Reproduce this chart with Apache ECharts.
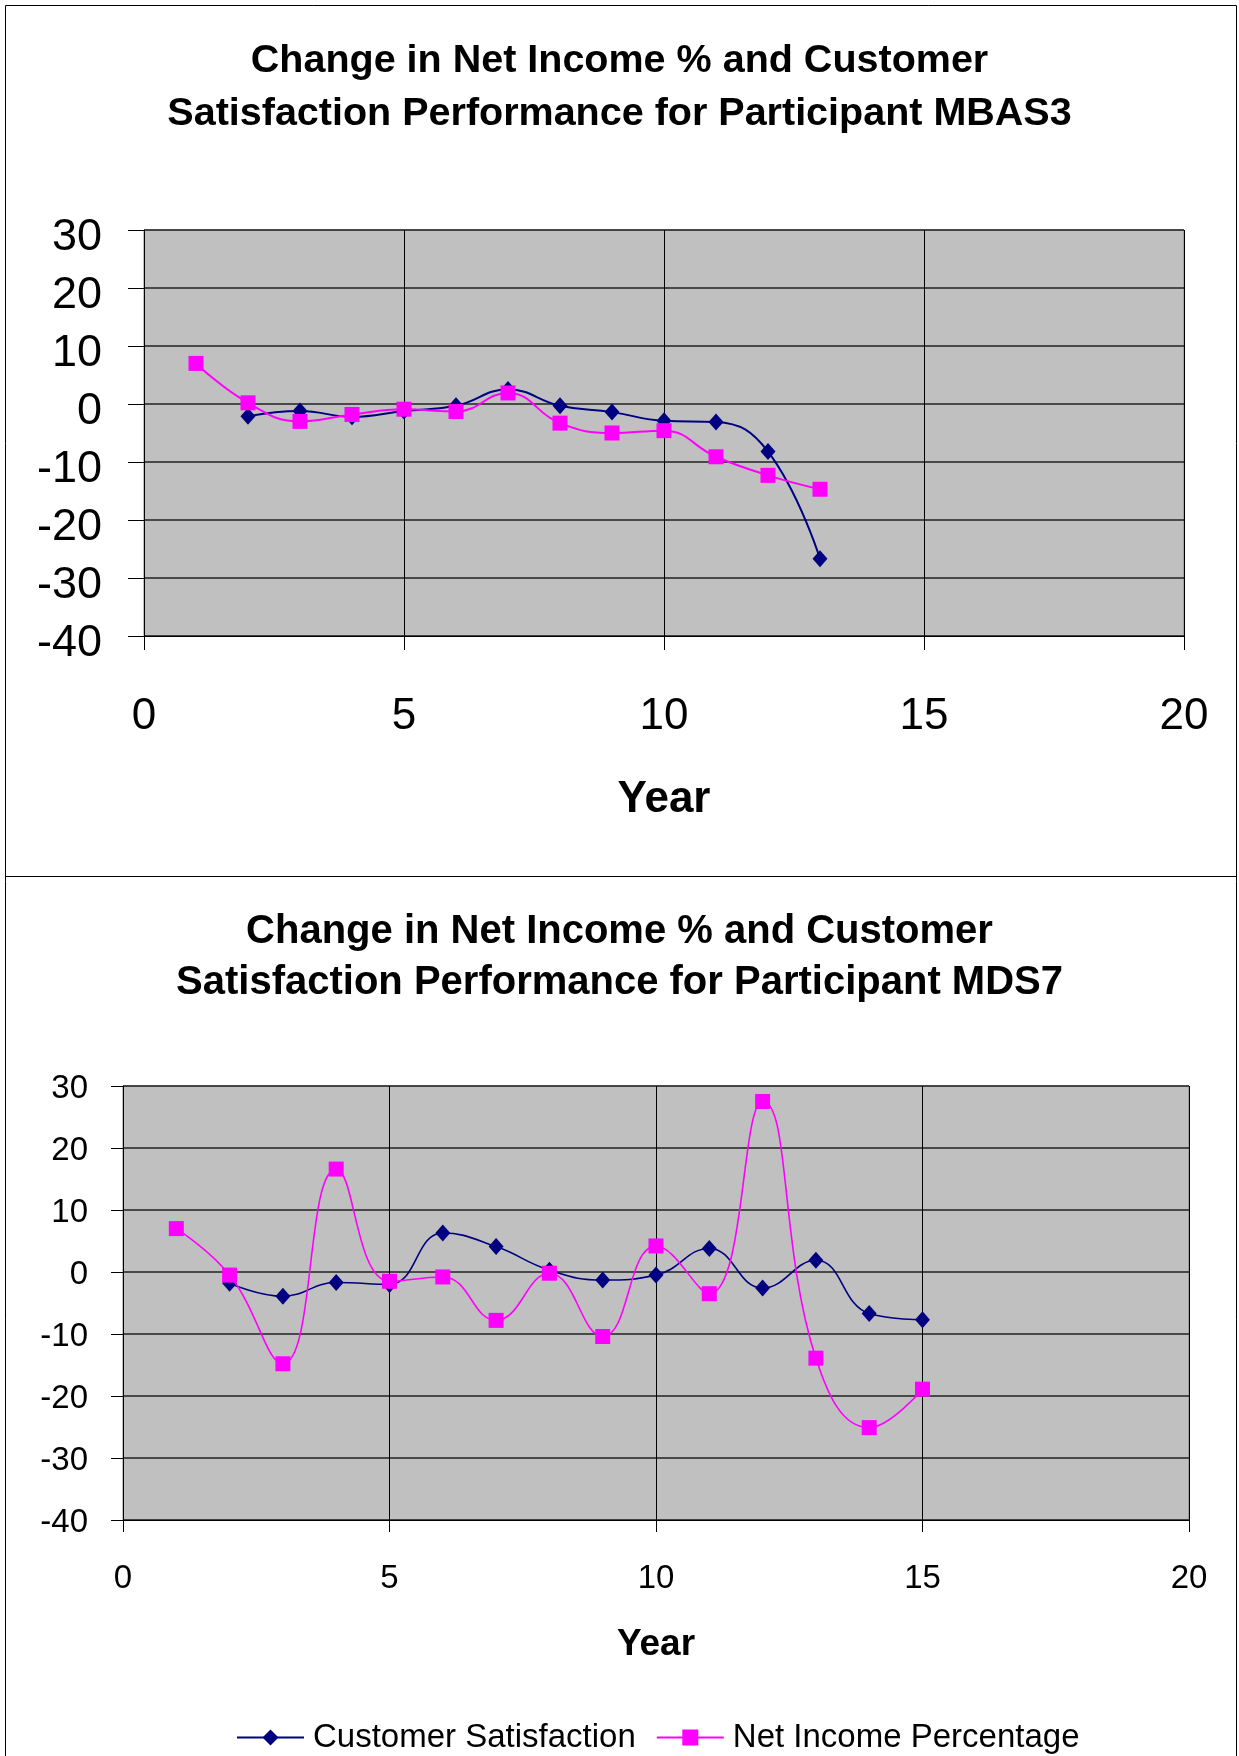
<!DOCTYPE html>
<html>
<head>
<meta charset="utf-8">
<script src="https://cdn.jsdelivr.net/npm/echarts@6/dist/echarts.min.js"></script>
<style>
html,body{margin:0;padding:0;background:#fff;}
#chart{width:1239px;height:1756px;}
</style>
</head>
<body>
<div id="chart"></div>
<script>
// ---- Data ----
const title1 = "Change in Net Income % and Customer\nSatisfaction Performance for Participant MBAS3";
const title2 = "Change in Net Income % and Customer\nSatisfaction Performance for Participant MDS7";
const seriesNames = ["Customer Satisfaction", "Net Income Percentage"];
const xAxisName = "Year";

// Chart 1 (MBAS3)
const niYears1 = [1, 2, 3, 4, 5, 6, 7, 8, 9, 10, 11, 12, 13];
const niValues1 = [7.0, 0.2, -3.0, -1.8, -0.9, -1.3, 1.9, -3.3, -5.0, -4.6, -9.1, -12.3, -14.7];
const csYears1 = [2, 3, 4, 5, 6, 7, 8, 9, 10, 11, 12, 13];
const csValues1 = [-2.1, -1.2, -2.2, -1.2, -0.3, 2.5, -0.3, -1.4, -2.9, -3.1, -8.2, -26.7];

// Chart 2 (MDS7)
const niYears2 = [1, 2, 3, 4, 5, 6, 7, 8, 9, 10, 11, 12, 13, 14, 15];
const niValues2 = [7.0, -0.5, -14.8, 16.6, -1.5, -0.8, -7.8, -0.2, -10.4, 4.2, -3.5, 27.5, -13.9, -25.1, -18.9];
const csYears2 = [2, 3, 4, 5, 6, 7, 8, 9, 10, 11, 12, 13, 14, 15];
const csValues2 = [-1.8, -3.9, -1.7, -2.0, 6.3, 4.1, 0.3, -1.3, -0.5, 3.8, -2.6, 1.9, -6.7, -7.7];

// Axis scales
const xMin = 0, xMax = 20, xStep = 5;
const yMin = -40, yMax = 30, yStep = 10;

// ---- Build ----
const FONT = "'Liberation Sans', Arial, sans-serif";
const NAVY = "#000080";
const PINK = "#FF00FF";

function pairs(xs, ys) { return xs.map((x, i) => [x, ys[i]]); }

function xAxisFor(gridIndex, fontSize, margin, nameGap, nameSize, tickLen) {
  return {
    type: 'value', gridIndex: gridIndex, min: xMin, max: xMax, interval: xStep,
    position: 'bottom',
    axisLine: { show: true, onZero: false, lineStyle: { color: '#000', width: 1 } },
    axisTick: { show: true, length: tickLen, lineStyle: { color: '#000', width: 1 } },
    splitLine: { show: true, lineStyle: { color: '#000', width: 1 } },
    axisLabel: { color: '#000', fontSize: fontSize, fontFamily: FONT, margin: margin },
    name: xAxisName, nameLocation: 'middle', nameGap: nameGap,
    nameTextStyle: { color: '#000', fontSize: nameSize, fontWeight: 'bold', fontFamily: FONT }
  };
}
function yAxisFor(gridIndex, fontSize, margin, tickLen, padTop) {
  return {
    type: 'value', gridIndex: gridIndex, min: yMin, max: yMax, interval: yStep,
    axisLine: { show: true, onZero: false, lineStyle: { color: '#000', width: 1 } },
    axisTick: { show: true, length: tickLen, lineStyle: { color: '#000', width: 1 } },
    splitLine: { show: true, lineStyle: { color: '#222', width: 1.5 } },
    axisLabel: {
      color: '#000', fontSize: fontSize, fontFamily: FONT, margin: margin,
      formatter: '{v|{value}}',
      rich: { v: { color: '#000', fontSize: fontSize, fontFamily: FONT, padding: [padTop, 0, 0, 0] } }
    }
  };
}
function lineSeries(name, idx, data, color, symbol, size, width) {
  return {
    name: name, type: 'line', xAxisIndex: idx, yAxisIndex: idx, data: data,
    smooth: 0.45, symbol: symbol, symbolSize: size, showSymbol: true,
    itemStyle: { color: color }, lineStyle: { color: color, width: width },
    emphasis: { disabled: true }, z: symbol === 'rect' ? 3 : 2
  };
}

const chart = echarts.init(document.getElementById('chart'), null, { renderer: 'canvas' });
chart.setOption({
  animation: false,
  backgroundColor: '#fff',
  title: [
    { text: title1, left: 'center', top: 35, padding: 0,
      textStyle: { fontSize: 39.5, fontWeight: 'bold', color: '#000', fontFamily: FONT, lineHeight: 53 } },
    { text: title2, left: 'center', top: 906, padding: 0,
      textStyle: { fontSize: 40, fontWeight: 'bold', color: '#000', fontFamily: FONT, lineHeight: 51 } }
  ],
  legend: {
    data: seriesNames, left: 236, top: 1721, padding: 0,
    itemWidth: 67, itemHeight: 20, itemGap: 20,
    textStyle: { fontSize: 33, color: '#000', fontFamily: FONT, padding: [0, 0, 0, 4] }
  },
  grid: [
    { left: 144, top: 230, width: 1040, height: 406, show: true,
      backgroundColor: '#C0C0C0', borderColor: '#808080', borderWidth: 1 },
    { left: 123, top: 1086, width: 1066, height: 434, show: true,
      backgroundColor: '#C0C0C0', borderColor: '#808080', borderWidth: 1 }
  ],
  xAxis: [
    xAxisFor(0, 44, 59, 142, 44, 14),
    xAxisFor(1, 33, 42, 106, 37, 12)
  ],
  yAxis: [
    yAxisFor(0, 45, 42, 16, 16),
    yAxisFor(1, 33, 35, 12, 6)
  ],
  series: [
    lineSeries(seriesNames[0], 0, pairs(csYears1, csValues1), NAVY, 'diamond', [15, 17], 2),
    lineSeries(seriesNames[1], 0, pairs(niYears1, niValues1), PINK, 'rect', [15, 15], 2),
    lineSeries(seriesNames[0], 1, pairs(csYears2, csValues2), NAVY, 'diamond', [15, 17], 1.6),
    lineSeries(seriesNames[1], 1, pairs(niYears2, niValues2), PINK, 'rect', [15, 15], 1.6)
  ],
  graphic: [
    { type: 'rect', silent: true, z: -1,
      shape: { x: 5.5, y: 5.5, width: 1231, height: 1800 },
      style: { fill: null, stroke: '#000', lineWidth: 1 } },
    { type: 'line', silent: true, z: -1,
      shape: { x1: 5, y1: 876.5, x2: 1237, y2: 876.5 },
      style: { stroke: '#000', lineWidth: 1 } }
  ]
});
</script>
</body>
</html>
